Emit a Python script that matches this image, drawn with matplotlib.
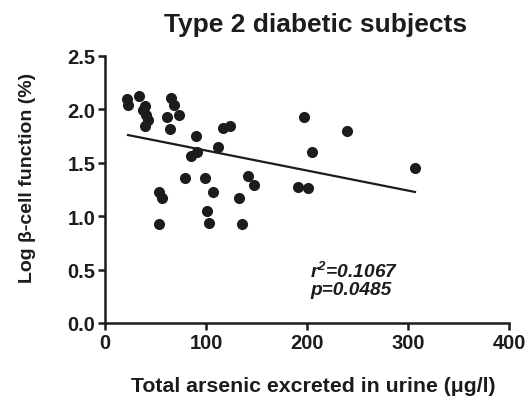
import numpy as np
import matplotlib
matplotlib.use("Agg")
import matplotlib.pyplot as plt

# Urinary arsenic (ug/l) vs log beta-cell function
arsenic = [21.5, 22.8, 33.7, 39.6, 37.3, 40.6, 42.3, 39.6, 65.3, 68.3,
           61.1, 73.6, 64.4, 90.1, 116.5, 124.1, 112.2, 90.8, 84.9, 197.3,
           205.0, 79.5, 99.3, 141.6, 147.2, 107.2, 53.2, 56.1, 133.0, 100.7,
           191.4, 201.3, 53.2, 103.3, 135.3, 239.9, 306.9]
log_beta = [2.10, 2.04, 2.13, 2.03, 1.99, 1.95, 1.90, 1.84, 2.11, 2.04,
            1.93, 1.95, 1.82, 1.75, 1.83, 1.84, 1.65, 1.60, 1.56, 1.93,
            1.60, 1.36, 1.36, 1.38, 1.29, 1.23, 1.23, 1.17, 1.17, 1.05,
            1.27, 1.26, 0.93, 0.94, 0.93, 1.80, 1.45]

# regression line as printed
fit_x = [22.8, 306.9]
fit_y = [1.76, 1.227]

x_ticks = [0, 100, 200, 300, 400]
y_ticks = [0.0, 0.5, 1.0, 1.5, 2.0, 2.5]

INK = "#1c1c1c"
plt.rcParams["font.family"] = ["Liberation Sans", "DejaVu Sans"]
plt.rcParams["font.weight"] = "bold"
plt.rcParams["mathtext.fontset"] = "custom"
plt.rcParams["mathtext.bfit"] = "Liberation Sans:bold:italic"
plt.rcParams["mathtext.bf"] = "Liberation Sans:bold:italic"

fig = plt.figure(figsize=(5.31, 4.06), dpi=100)
ax = fig.add_axes([105 / 531, 82 / 406, 404 / 531, 267 / 406])

ax.plot(arsenic, log_beta, "o", color=INK, ms=8, mec="none", clip_on=False)
ax.plot(fit_x, fit_y, color=INK, lw=1.6)

ax.set_xlim(0, 400)
ax.set_ylim(0, 2.5)
ax.set_xticks(x_ticks)
ax.set_yticks(y_ticks)
ax.set_yticklabels([f"{v:.1f}" for v in y_ticks])
for s in ("top", "right"):
    ax.spines[s].set_visible(False)
for s in ("left", "bottom"):
    ax.spines[s].set_linewidth(1.8)
    ax.spines[s].set_color(INK)
ax.tick_params(direction="out", length=5, width=1.8, color=INK,
               labelsize=14.5, labelcolor=INK, pad=2)

fig.text(316 / 531, 1 - 25 / 406, "Type 2 diabetic subjects", ha="center",
         va="center", fontsize=19, fontweight="bold", color=INK)
fig.text(313 / 531, 1 - 387 / 406, "Total arsenic excreted in urine (\u03bcg/l)",
         ha="center", va="center", fontsize=15.3, fontweight="bold", color=INK)
fig.text(28 / 531, 1 - 178 / 406, "Log \u03b2-cell function (%)", ha="center",
         va="center", rotation=90, fontsize=14, fontweight="bold", color=INK)

fig.text(310 / 531, 1 - 280 / 406, "r$^{\\mathbf{2}}$=0.1067\np=0.0485",
         fontsize=13.8, fontweight="bold", style="italic", color=INK,
         va="center", ha="left", linespacing=1.0)

fig.savefig("out.png", dpi=100)
